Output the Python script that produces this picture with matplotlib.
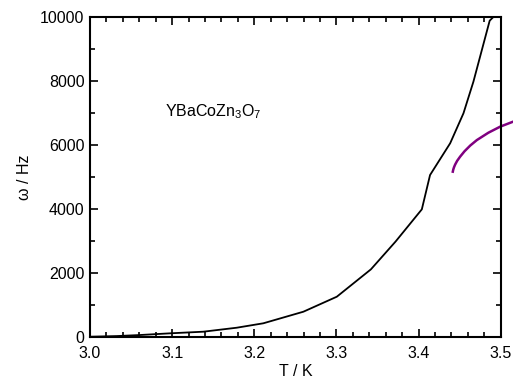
import numpy as np
import matplotlib
matplotlib.use('Agg')
import matplotlib.pyplot as plt
from matplotlib.ticker import MultipleLocator

plt.rcParams['font.family'] = ['Liberation Sans', 'DejaVu Sans']
plt.rcParams['mathtext.fontset'] = 'custom'
plt.rcParams['mathtext.rm'] = 'Liberation Sans'

# black curve: omega vs T
T_black = [3.00, 3.0325, 3.061, 3.0975, 3.138, 3.1787, 3.211, 3.2598, 3.3005,
           3.342, 3.372, 3.404, 3.414, 3.4385, 3.4547, 3.4668, 3.4866, 3.4905]
w_black = [0, 20, 53, 106, 157, 282, 420, 783, 1253,
           2110, 2980, 3990, 5065, 6060, 7000, 7990, 9900, 10000]

# purple curve
T_purple = [3.4417, 3.4423, 3.4432, 3.4445, 3.4470, 3.4506, 3.4560, 3.4630,
            3.4710, 3.4850, 3.4994, 3.515]
w_purple = [5170, 5240, 5310, 5390, 5510, 5640, 5810, 5990,
            6160, 6390, 6580, 6735]

fig = plt.figure(figsize=(5.13, 3.86), dpi=100)
ax = fig.add_axes([0.1754, 0.1277, 0.8006, 0.827])

ax.plot(T_black, w_black, color='black', lw=1.3)
ax.plot(T_purple, w_purple, color='#800080', lw=1.8, clip_on=False)

ax.set_xlim(3.0, 3.5)
ax.set_ylim(0, 10000)
ax.xaxis.set_major_locator(MultipleLocator(0.1))
ax.xaxis.set_minor_locator(MultipleLocator(0.02))
ax.yaxis.set_major_locator(MultipleLocator(2000))
ax.yaxis.set_minor_locator(MultipleLocator(1000))
ax.xaxis.set_major_formatter(plt.FormatStrFormatter('%.1f'))

ax.tick_params(which='both', direction='in', top=True, right=True, labelsize=11.5, width=1.2)
ax.tick_params(which='major', length=6, pad=4)
ax.tick_params(which='minor', length=3.5)
ax.tick_params(axis='x', which='major', pad=6.5)
for s in ax.spines.values():
    s.set_linewidth(1.5)

ax.set_xlabel('T / K', fontsize=11.5, labelpad=2)
ax.set_ylabel('ω / Hz', fontsize=11.5, labelpad=6)

ax.text(3.0914, 6900, r'YBaCoZn$_{\mathregular{3}}$O$_{\mathregular{7}}$', fontsize=11.5, va='baseline')

fig.savefig('out.png', dpi=100)
